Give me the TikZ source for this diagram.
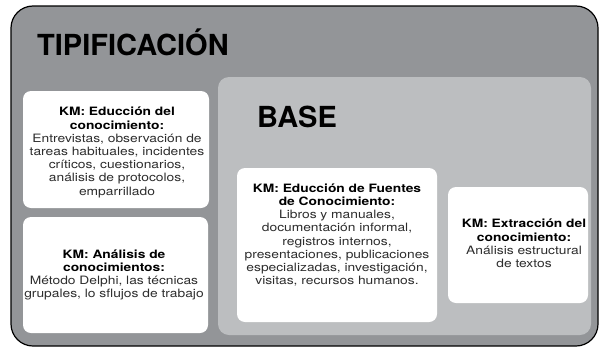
\documentclass[tikz,border=0pt]{standalone}
\usepackage{fontspec}
\setmainfont{TeX Gyre Heros}
\newfontfamily\boxfont[FakeStretch=1.2]{TeX Gyre Heros}
\usetikzlibrary{positioning}

\definecolor{outergray}{RGB}{147,149,152}
\definecolor{basegray}{RGB}{188,190,192}
\definecolor{bodytext}{RGB}{45,45,45}

\newcommand{\kmhead}[1]{{\color{black}\bfseries #1}}

\tikzset{
  kmbox/.style={fill=white, rounded corners=8pt},
  kmtext/.style={align=center, inner sep=0pt, text=bodytext,
    font=\boxfont\fontsize{11.5}{13.2}\selectfont},
  bigtitle/.style={anchor=base west, inner sep=0pt,
    font=\bfseries\fontsize{29}{30}\selectfont}
}

\begin{document}
\begin{tikzpicture}[x=1pt, y=-1pt]
  \useasboundingbox (0,0) rectangle (599,348);

  % frames
  \draw[fill=outergray, line width=1.2pt, rounded corners=22pt] (11,6) rectangle (598,346);
  \fill[basegray, rounded corners=11pt] (218,77) rectangle (591,335);

  \node[bigtitle] (tipif) at (37,55) {TIPIFICACIÓN};
  \node[bigtitle] (base) at (257,127) {BASE};

  % white boxes
  \fill[kmbox] (23,91) rectangle (209,208);
  \fill[kmbox] (23,217) rectangle (208,333);
  \fill[kmbox] (237,168) rectangle (437,322);
  \fill[kmbox] (448,187) rectangle (588,303);

  \node[kmtext] (educcion) at (117,152.5) {\kmhead{KM: Educción del}\\
    \kmhead{conocimiento:}\\
    Entrevistas, observación de\\
    tareas habituales, incidentes\\
    críticos, cuestionarios,\\
    análisis de protocolos,\\
    emparrillado};
  \node[kmtext] (analisis) at (114,275) {\kmhead{KM: Análisis de}\\
    \kmhead{conocimientos:}\\
    Método Delphi, las técnicas\\
    grupales, lo sflujos de trabajo};
  \node[kmtext] (fuentes) at (337,235) {\kmhead{KM: Educción de Fuentes}\\
    \kmhead{de Conocimiento:}\\
    Libros y manuales,\\
    documentación informal,\\
    registros internos,\\
    presentaciones, publicaciones\\
    especializadas, investigación,\\
    visitas, recursos humanos.};
  \node[kmtext] (extraccion) at (524,243.5) {\kmhead{KM: Extracción del}\\
    \kmhead{conocimiento:}\\
    Análisis estructural\\
    de textos};
\end{tikzpicture}
\end{document}
